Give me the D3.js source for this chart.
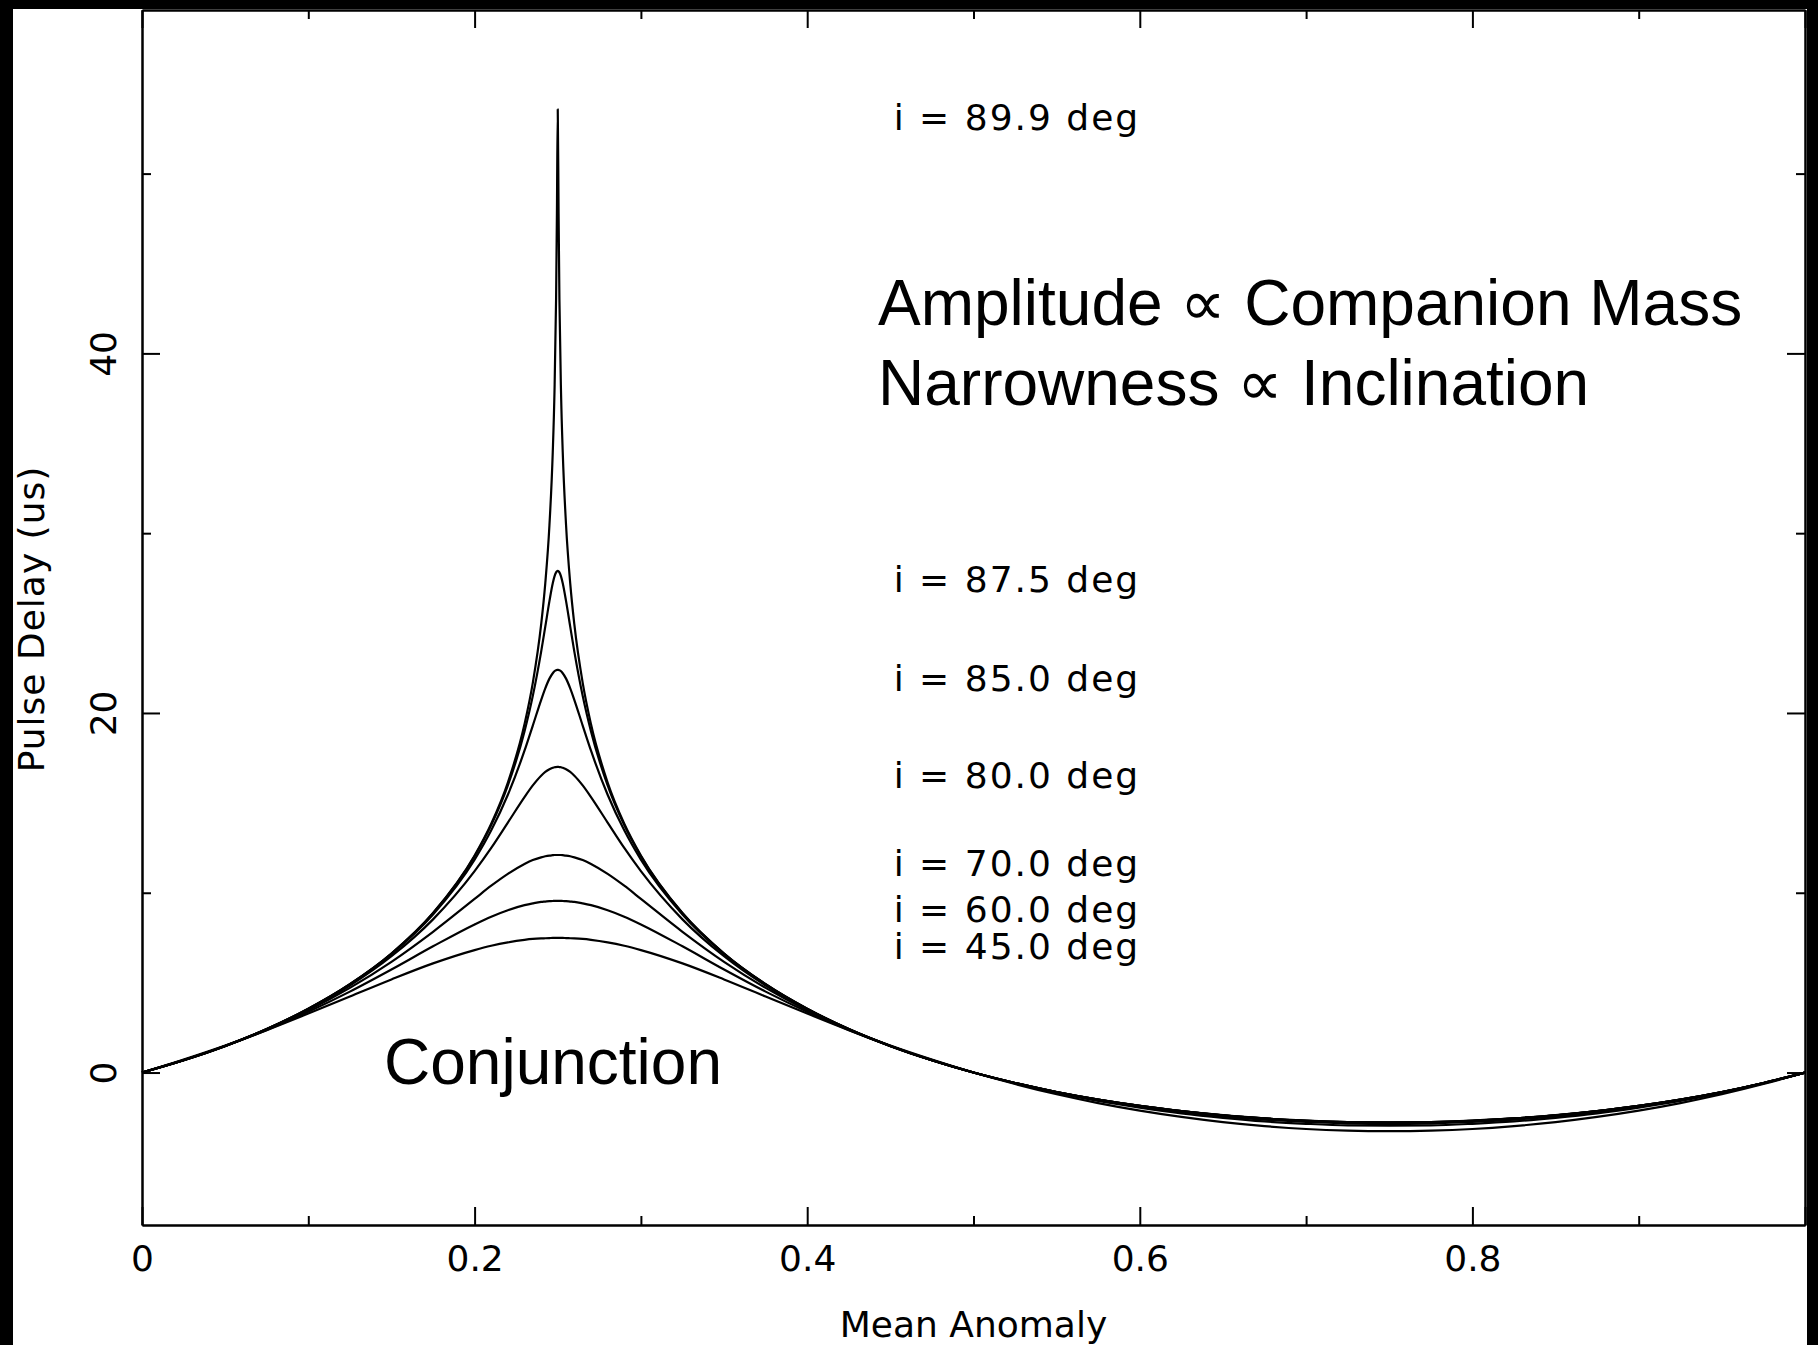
<!DOCTYPE html>
<html>
<head>
<meta charset="utf-8">
<script src="https://cdn.jsdelivr.net/npm/d3@7"></script>
<style>
  body { margin: 0; background: #fff; }
  svg { display: block; }
  .pg { font-family: "DejaVu Sans ExtraLight", "DejaVu Sans", sans-serif; fill: #000; }
  .big { font-family: "Liberation Sans", Arial, sans-serif; font-size: 64px; fill: #000; }
</style>
</head>
<body>
<svg width="1818" height="1345"></svg>
<script>
// mean anomaly samples (denser around conjunction)
var meanAnomaly = [0, 0.025, 0.05, 0.075, 0.1, 0.125, 0.15, 0.175, 0.2, 0.21, 0.22, 0.23, 0.235, 0.24, 0.2425, 0.245, 0.247, 0.248, 0.249, 0.2495, 0.25,
  0.2505, 0.251, 0.252, 0.253, 0.255, 0.2575, 0.26, 0.265, 0.27, 0.28, 0.29, 0.3, 0.325, 0.35, 0.375, 0.4, 0.425, 0.45, 0.475, 0.5,
  0.525, 0.55, 0.575, 0.6, 0.625, 0.65, 0.675, 0.7, 0.725, 0.75, 0.775, 0.8, 0.825, 0.85, 0.875, 0.9, 0.925, 0.95, 0.975, 1];

// pulse delay (us), one list per inclination
var delay899 = [0, 0.68, 1.48, 2.42, 3.55, 4.91, 6.62, 8.87, 12.07, 13.84, 16.13, 19.37, 21.67, 24.91, 27.21, 30.44, 34.51, 37.71, 43.03, 47.80, 53.58,
  47.80, 43.03, 37.71, 34.51, 30.44, 27.21, 24.91, 21.67, 19.37, 16.13, 13.84, 12.07, 8.87, 6.62, 4.91, 3.55, 2.42, 1.48, 0.68, 0,
  -0.58, -1.08, -1.50, -1.85, -2.14, -2.37, -2.55, -2.67, -2.75, -2.77, -2.75, -2.67, -2.55, -2.37, -2.14, -1.85, -1.50, -1.08, -0.58, 0];
var delay875 = [0, 0.68, 1.48, 2.42, 3.55, 4.92, 6.62, 8.86, 12.03, 13.76, 15.97, 18.97, 20.95, 23.40, 24.80, 26.22, 27.21, 27.58, 27.82, 27.88, 27.90,
  27.88, 27.82, 27.58, 27.21, 26.22, 24.80, 23.40, 20.95, 18.97, 15.97, 13.76, 12.03, 8.86, 6.62, 4.92, 3.55, 2.42, 1.48, 0.68, 0,
  -0.58, -1.08, -1.50, -1.85, -2.14, -2.38, -2.55, -2.68, -2.75, -2.78, -2.75, -2.68, -2.55, -2.38, -2.14, -1.85, -1.50, -1.08, -0.58, 0];
var delay850 = [0, 0.68, 1.48, 2.42, 3.54, 4.90, 6.59, 8.79, 11.84, 13.47, 15.45, 17.90, 19.30, 20.72, 21.37, 21.91, 22.21, 22.32, 22.38, 22.39, 22.40,
  22.39, 22.38, 22.32, 22.21, 21.91, 21.37, 20.72, 19.30, 17.90, 15.45, 13.47, 11.84, 8.79, 6.59, 4.90, 3.54, 2.42, 1.48, 0.68, 0,
  -0.58, -1.08, -1.50, -1.85, -2.14, -2.38, -2.55, -2.68, -2.75, -2.78, -2.75, -2.68, -2.55, -2.38, -2.14, -1.85, -1.50, -1.08, -0.58, 0];
var delay800 = [0, 0.68, 1.47, 2.41, 3.51, 4.84, 6.47, 8.52, 11.20, 12.49, 13.90, 15.32, 15.97, 16.51, 16.72, 16.87, 16.95, 16.98, 16.99, 17.00, 17.00,
  17.00, 16.99, 16.98, 16.95, 16.87, 16.72, 16.51, 15.97, 15.32, 13.90, 12.49, 11.20, 8.52, 6.47, 4.84, 3.51, 2.41, 1.47, 0.68, 0,
  -0.58, -1.08, -1.50, -1.85, -2.15, -2.38, -2.56, -2.68, -2.76, -2.78, -2.76, -2.68, -2.56, -2.38, -2.15, -1.85, -1.50, -1.08, -0.58, 0];
var delay700 = [0, 0.69, 1.48, 2.40, 3.46, 4.71, 6.16, 7.83, 9.66, 10.39, 11.05, 11.60, 11.82, 11.97, 12.03, 12.07, 12.09, 12.10, 12.10, 12.10, 12.10,
  12.10, 12.10, 12.10, 12.09, 12.07, 12.03, 11.97, 11.82, 11.60, 11.05, 10.39, 9.66, 7.83, 6.16, 4.71, 3.46, 2.40, 1.48, 0.69, 0,
  -0.59, -1.10, -1.53, -1.90, -2.20, -2.44, -2.62, -2.75, -2.83, -2.86, -2.83, -2.75, -2.62, -2.44, -2.20, -1.90, -1.53, -1.10, -0.59, 0];
var delay600 = [0, 0.69, 1.48, 2.37, 3.38, 4.50, 5.73, 7.02, 8.24, 8.67, 9.03, 9.31, 9.41, 9.49, 9.51, 9.53, 9.54, 9.55, 9.55, 9.55, 9.55,
  9.55, 9.55, 9.55, 9.54, 9.53, 9.51, 9.49, 9.41, 9.31, 9.03, 8.67, 8.24, 7.02, 5.73, 4.50, 3.38, 2.37, 1.48, 0.69, 0,
  -0.60, -1.13, -1.58, -1.95, -2.27, -2.52, -2.72, -2.85, -2.94, -2.96, -2.94, -2.85, -2.72, -2.52, -2.27, -1.95, -1.58, -1.13, -0.60, 0];
var delay450 = [0, 0.72, 1.50, 2.36, 3.28, 4.23, 5.18, 6.07, 6.81, 7.05, 7.24, 7.38, 7.43, 7.46, 7.47, 7.48, 7.49, 7.49, 7.49, 7.49, 7.49,
  7.49, 7.49, 7.49, 7.49, 7.48, 7.47, 7.46, 7.43, 7.38, 7.24, 7.05, 6.81, 6.07, 5.18, 4.23, 3.28, 2.36, 1.50, 0.72, 0,
  -0.64, -1.21, -1.70, -2.12, -2.47, -2.76, -2.98, -3.14, -3.23, -3.26, -3.23, -3.14, -2.98, -2.76, -2.47, -2.12, -1.70, -1.21, -0.64, 0];

var inclinations = ["89.9", "87.5", "85.0", "80.0", "70.0", "60.0", "45.0"];
var allDelays = [delay899, delay875, delay850, delay800, delay700, delay600, delay450];

var xMajor = [0, 0.2, 0.4, 0.6, 0.8, 1],
    xMinor = [0.1, 0.3, 0.5, 0.7, 0.9],
    xLabels = ["0", "0.2", "0.4", "0.6", "0.8", ""],
    yMajor = [0, 20, 40],
    yMinor = [10, 30, 50],
    yLabels = ["0", "20", "40"];

var width = 1818, height = 1345,
    margin = {top: 10, right: 13, bottom: 120, left: 142};

var svg = d3.select("svg");

// black frame bands from the original slide
svg.append("rect").attr("x", 0).attr("y", 0).attr("width", width).attr("height", 9).attr("fill", "#000");
svg.append("rect").attr("x", 0).attr("y", 0).attr("width", 13).attr("height", height).attr("fill", "#000");
svg.append("rect").attr("x", 1807).attr("y", 0).attr("width", 11).attr("height", height).attr("fill", "#000");

var x = d3.scaleLinear().domain([0, 1]).range([margin.left, width - margin.right]);
var y = d3.scaleLinear().domain([-8.48, 59.1]).range([height - margin.bottom, margin.top]);

function styleAxis(g) {
  g.select(".domain").attr("stroke", "#000").attr("stroke-width", 2);
  g.selectAll(".tick line").attr("stroke", "#000").attr("stroke-width", 2);
  g.selectAll("text").attr("class", "pg").style("font-size", "36px");
}

// bottom
svg.append("g").attr("transform", "translate(0," + y.range()[0] + ")")
  .call(d3.axisBottom(x).tickValues(xMajor).tickSize(-18).tickSizeOuter(0).tickPadding(20)
    .tickFormat(function(d, i) { return xLabels[i]; }))
  .call(styleAxis);
svg.append("g").attr("transform", "translate(0," + y.range()[0] + ")")
  .call(d3.axisBottom(x).tickValues(xMinor).tickSize(-9).tickSizeOuter(0).tickFormat(""))
  .call(styleAxis);
// top
svg.append("g").attr("transform", "translate(0," + y.range()[1] + ")")
  .call(d3.axisTop(x).tickValues(xMajor).tickSize(-18).tickSizeOuter(0).tickFormat(""))
  .call(styleAxis);
svg.append("g").attr("transform", "translate(0," + y.range()[1] + ")")
  .call(d3.axisTop(x).tickValues(xMinor).tickSize(-9).tickSizeOuter(0).tickFormat(""))
  .call(styleAxis);
// left
var yAxisG = svg.append("g").attr("transform", "translate(" + x.range()[0] + ",0)")
  .call(d3.axisLeft(y).tickValues(yMajor).tickSize(-18).tickSizeOuter(0)
    .tickFormat(function(d, i) { return yLabels[i]; }))
  .call(styleAxis);
yAxisG.selectAll(".tick text")
  .attr("x", 0).attr("y", -26).attr("dy", 0)
  .attr("text-anchor", "middle")
  .attr("transform", "rotate(-90)");
svg.append("g").attr("transform", "translate(" + x.range()[0] + ",0)")
  .call(d3.axisLeft(y).tickValues(yMinor).tickSize(-9).tickSizeOuter(0).tickFormat(""))
  .call(styleAxis);
// right
svg.append("g").attr("transform", "translate(" + x.range()[1] + ",0)")
  .call(d3.axisRight(y).tickValues(yMajor).tickSize(-18).tickSizeOuter(0).tickFormat(""))
  .call(styleAxis);
svg.append("g").attr("transform", "translate(" + x.range()[1] + ",0)")
  .call(d3.axisRight(y).tickValues(yMinor).tickSize(-9).tickSizeOuter(0).tickFormat(""))
  .call(styleAxis);

// curves
var line = d3.line()
  .x(function(d, i) { return x(meanAnomaly[i]); })
  .y(function(d) { return y(d); })
  .curve(d3.curveMonotoneX);

svg.append("g").selectAll("path")
  .data(allDelays)
  .enter().append("path")
    .attr("d", line)
    .attr("fill", "none")
    .attr("stroke", "#000")
    .attr("stroke-width", 2.2)
    .attr("stroke-linejoin", "round");

// inclination labels, next to each peak height
svg.append("g").selectAll("text")
  .data(allDelays)
  .enter().append("text")
    .attr("class", "pg")
    .attr("x", x(0.452))
    .attr("y", function(d) { return y(d3.max(d)) + 21; })
    .style("font-size", "36px")
    .style("letter-spacing", "2px")
    .text(function(d, i) { return "i = " + inclinations[i] + " deg"; });

// axis titles
svg.append("text")
  .attr("class", "pg")
  .attr("x", (x.range()[0] + x.range()[1]) / 2)
  .attr("y", 1337)
  .attr("text-anchor", "middle")
  .style("font-size", "36px")
  .text("Mean Anomaly");

svg.append("text")
  .attr("class", "pg")
  .attr("transform", "translate(44,619) rotate(-90)")
  .attr("text-anchor", "middle")
  .style("font-size", "36px")
  .style("letter-spacing", "1px")
  .text("Pulse Delay (us)");

// annotations
svg.append("text").attr("class", "big").attr("x", 878).attr("y", 325).text("Amplitude \u221D Companion Mass");
svg.append("text").attr("class", "big").attr("x", 878).attr("y", 405).text("Narrowness \u221D Inclination");
svg.append("text").attr("class", "big").attr("x", 384).attr("y", 1084).text("Conjunction");
</script>
</body>
</html>
